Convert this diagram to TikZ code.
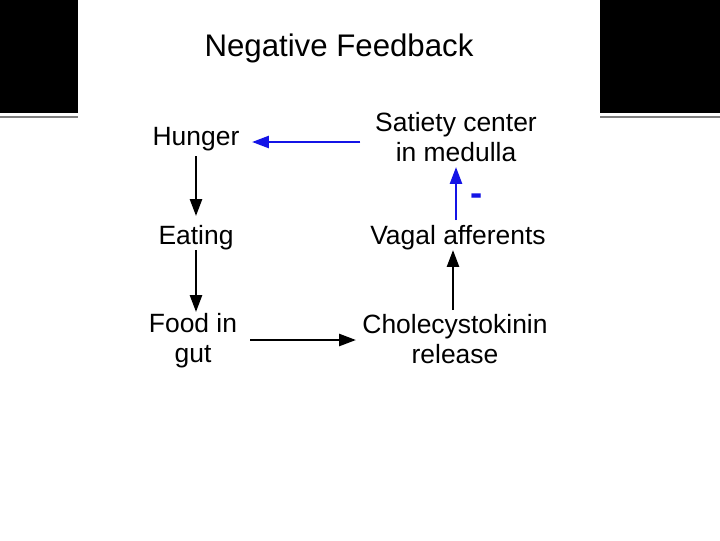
\documentclass[tikz,border=0pt]{standalone}
\usepackage{fontspec}
\setmainfont{Liberation Sans}
\usetikzlibrary{arrows.meta}
\definecolor{fbblue}{RGB}{20,20,230}
\begin{document}
\begin{tikzpicture}[x=0.025cm,y=-0.025cm,
  lbl/.style={inner sep=0pt,align=center,font=\fontsize{18.8}{21.5}\selectfont},
  conn/.style={line width=1.8pt,-{Triangle[length=12pt,width=8.5pt]}},
  bconn/.style={conn,draw=fbblue,fill=fbblue}]
\useasboundingbox (0,0) rectangle (720,540);
\fill[white] (0,0) rectangle (720,540);
\fill[black] (0,0) rectangle (78,113);
\fill[black] (600,0) rectangle (720,113);
\draw[gray,line width=0.8pt] (0,117) -- (78,117);
\draw[gray,line width=0.8pt] (600,117) -- (720,117);
\node[lbl,font=\fontsize{22.2}{26}\selectfont] (title) at (339,48) {Negative Feedback};
\node[lbl] (hunger) at (196,139) {Hunger};
\node[lbl] (eating) at (196,238) {Eating};
\node[lbl] (food) at (193,341) {Food in\\gut};
\node[lbl] (sat) at (456,137) {Satiety center\\in medulla};
\node[lbl] (vagal) at (458,238) {Vagal afferents};
\node[lbl] (cck) at (455,339) {Cholecystokinin\\release};
\coordinate (hs) at (196,156); \coordinate (he) at (196,216);
\coordinate (es) at (196,250); \coordinate (ee) at (196,312);
\coordinate (fs) at (250,340); \coordinate (fe) at (356,340);
\coordinate (cs) at (453,310); \coordinate (ce) at (453,250);
\coordinate (vs) at (456,220); \coordinate (ve) at (456,167);
\coordinate (ss) at (360,142); \coordinate (se) at (252,142);
\draw[conn] (hs) -- (he);
\draw[conn] (es) -- (ee);
\draw[conn] (fs) -- (fe);
\draw[conn] (cs) -- (ce);
\draw[bconn] (vs) -- (ve);
\draw[bconn] (ss) -- (se);
\node[lbl,text=fbblue,font=\bfseries\fontsize{26}{30}\selectfont] (minus) at (477,200) {-};
\end{tikzpicture}
\end{document}
